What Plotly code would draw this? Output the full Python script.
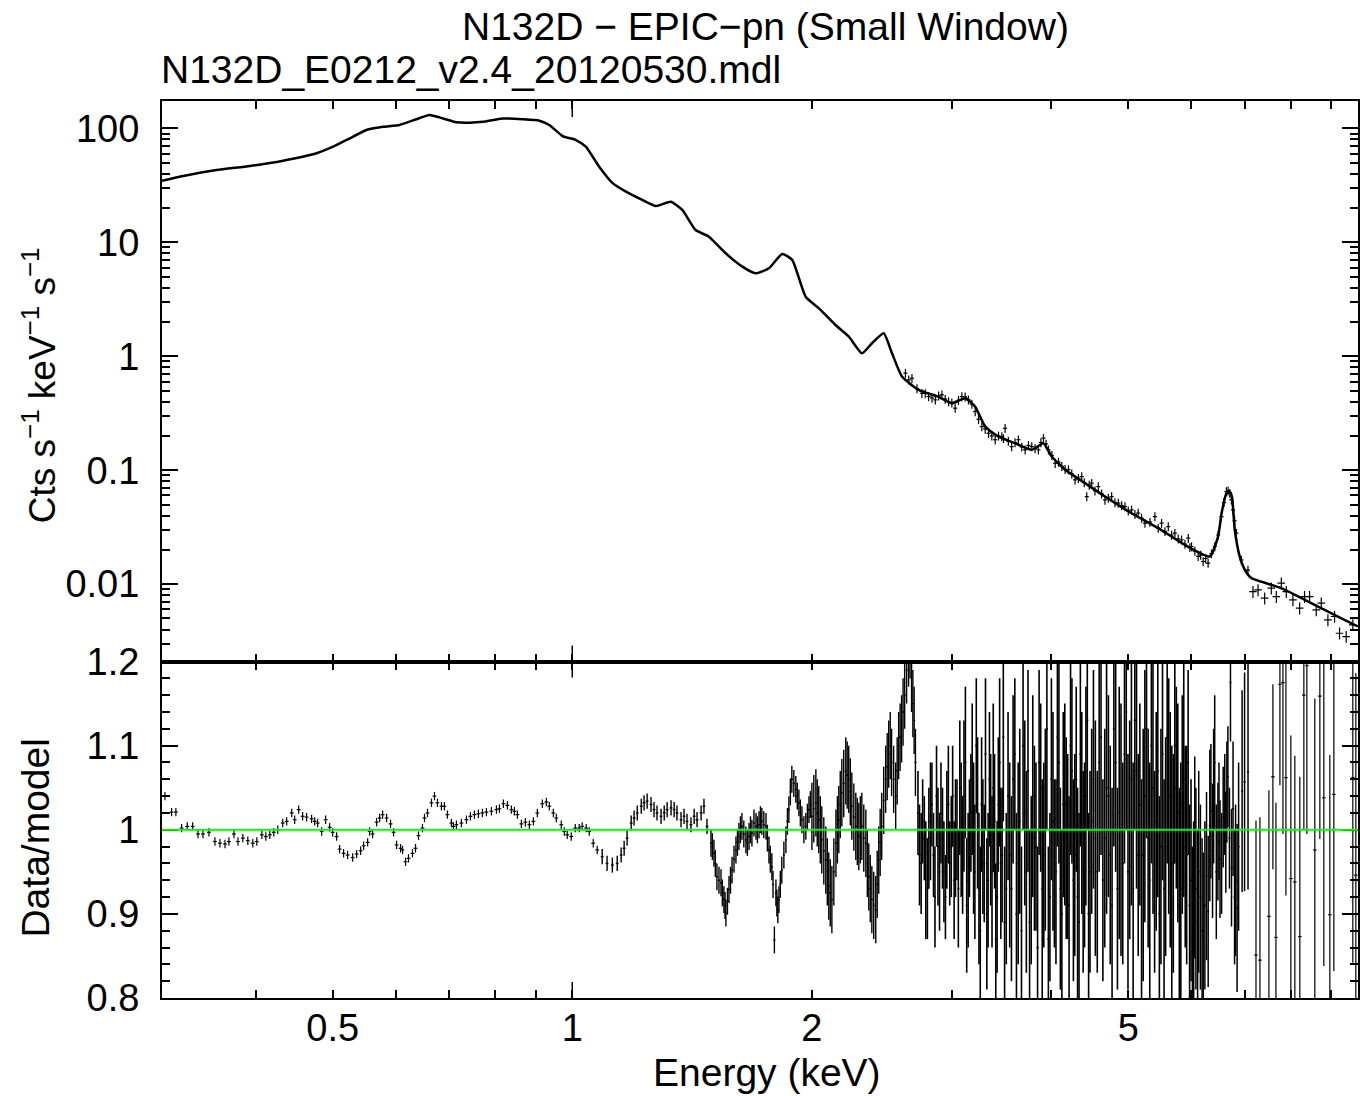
import math
import plotly.graph_objects as go

# ---------------- model curve (top panel) ----------------
model_E = [0.305,0.3244,0.3571,0.3933,0.4330,0.4770,0.5004,0.5252,0.5511,0.5781,
           0.6066,0.6366,0.6616,0.6876,0.7147,0.7426,0.7719,0.8175,0.8661,0.9091,
           0.9357,0.9723,1.0107,1.040,1.081,1.124,1.168,1.225,1.274,1.330,
           1.375,1.429,1.485,1.559,1.636,1.700,1.767,1.836,1.890,1.965,
           2.041,2.142,2.226,2.313,2.381,2.463,2.523,2.597,2.725,2.887,
           3.000,3.119,3.210,3.304,3.434,3.604,3.781,3.911,4.006,4.164,
           4.411,4.673,5.047,5.452,5.888,6.330,6.483,6.550,6.641,6.707,
           6.750,6.804,6.902,7.000,7.138,7.785,8.573,9.171,9.716]
model_V = [34.7,38.2,43.0,46.7,52.0,60.4,69.0,81.7,96.6,103,
           107,120,131,122,113,112,114,122,120,116.6,
           107,85.5,78.9,69,46,33.0,27.8,23.5,20.8,22.7,
           19.2,12.8,11.2,8.0,6.11,5.34,5.91,7.89,7.0,3.33,
           2.64,1.88,1.49,1.06,1.30,1.59,1.06,0.663,0.506,0.44,
           0.387,0.428,0.361,0.241,0.197,0.172,0.151,0.172,0.132,0.1007,
           0.0769,0.0587,0.0419,0.031,0.0221,0.0175,0.0262,0.042,0.0628,0.0649,
           0.058,0.030,0.0175,0.0135,0.0113,0.00923,0.00658,0.0052,0.00425]

# ---------------- data points (top panel) ----------------
data_E = [2.623,2.673,2.751,2.805,2.860,2.915,2.972,3.029,3.088,3.148,
          3.210,3.272,3.336,3.401,3.467,3.500,3.567,3.637,3.709,3.781,
          3.854,3.911,3.968,4.046,4.124,4.204,4.286,4.369,4.433,4.497,
          4.584,4.673,4.764,4.857,4.951,5.047,5.145,5.246,5.400,5.505,
          5.613,5.721,5.833,5.947,6.004,6.120,6.209,6.299,6.422,6.546,
          6.641,6.707,6.770,6.835,6.935,7.069,7.172,7.278,7.419,7.563,
          7.674,7.785,7.898,8.052,8.209,8.327,8.449,8.613,8.739,8.909,
          9.083,9.214,9.393,9.576]
data_V = [0.71,0.641,0.473,0.443,0.414,0.458,0.400,0.350,0.443,0.414,
          0.327,0.241,0.211,0.185,0.197,0.233,0.161,0.185,0.151,0.161,
          0.151,0.191,0.151,0.115,0.108,0.101,0.0823,0.0879,0.0586,0.0769,
          0.0718,0.0548,0.0586,0.0514,0.048,0.0449,0.042,0.0343,0.0392,0.0343,
          0.032,0.028,0.0245,0.0253,0.0214,0.0175,0.0158,0.0153,0.0214,0.0392,
          0.0649,0.0628,0.0449,0.028,0.0163,0.0133,0.0086,0.0089,0.00753,0.00923,
          0.00778,0.0102,0.0086,0.00727,0.00615,0.00778,0.00778,0.00595,0.00681,0.00486,
          0.0052,0.00371,0.00347,0.0044]
data2_E = [2.648,2.712,2.778,2.832,2.888,2.943,3.000,3.058,3.118,3.179,
           3.241,3.304,3.368,3.434,3.484,3.533,3.602,3.673,3.745,3.817,
           3.882,3.940,4.007,4.085,4.164,4.245,4.327,4.401,4.465,4.540,
           4.628,4.718,4.810,4.904,4.999,5.096,5.195,5.323,5.452,5.559,
           5.667,5.777,5.890,5.975,6.062,6.165,6.254,6.360,6.484,6.594,
           6.674,6.738,6.802]
data2_V = [0.62,0.52,0.47,0.43,0.45,0.42,0.39,0.41,0.44,0.38,
           0.28,0.23,0.20,0.20,0.19,0.18,0.175,0.16,0.165,0.155,
           0.175,0.17,0.135,0.118,0.102,0.093,0.085,0.078,0.074,0.066,
           0.062,0.057,0.052,0.049,0.044,0.041,0.038,0.035,0.031,0.029,
           0.027,0.025,0.0225,0.021,0.0195,0.018,0.0168,0.0185,0.027,0.052,
           0.066,0.055,0.036]

# ---------------- residuals (bottom panel) ----------------
res1_E = [0.3076,0.3136,0.3175,0.3228,0.3281,0.3333,0.3385,0.3434,0.3494,0.3555,
          0.3607,0.3660,0.3702,0.3756,0.3800,0.3854,0.3910,0.3967,0.4013,0.4072,
          0.4119,0.4167,0.4215,0.4264,0.4326,0.4376,0.4440,0.4478,0.4530,0.4582,
          0.4635,0.4703,0.4745,0.4786,0.4842,0.4898,0.4955,0.4998,0.5056,0.5100,
          0.5159,0.5219,0.5296,0.5357,0.5420,0.5467,0.5531,0.5563,0.5611,0.5676,
          0.5726,0.5776,0.5843,0.5910,0.5962,0.6014,0.6084,0.6119,0.6172,0.6225,
          0.6297,0.6353,0.6408,0.6482,0.6520,0.6577,0.6653,0.6711,0.6769,0.6848,
          0.6907,0.6967,0.7048,0.7089,0.7151,0.7255,0.7362,0.7447,0.7534,0.7621,
          0.7710,0.7800,0.7914,0.8029,0.8099,0.8193,0.8288,0.8384,0.8457,0.8531,
          0.8630,0.8731,0.8832,0.8935,0.9038,0.9170,0.9277,0.9357,0.9466,0.9548,
          0.9687,0.9772,0.9856,0.9970,1.0087,1.0204,1.0292,1.0413,1.0503,1.0625,1.0749]
res1_R = [1.040,1.021,1.021,1.002,1.004,1.004,0.995,0.995,0.997,0.986,
          0.984,0.983,0.986,0.995,0.986,0.990,0.987,0.984,0.986,0.994,
          0.992,0.994,0.997,1.000,1.008,1.010,1.020,1.012,1.024,1.016,
          1.015,1.013,1.010,1.008,0.998,1.012,1.003,0.997,0.992,0.977,
          0.972,0.970,0.967,0.971,0.975,0.981,0.985,0.998,0.995,1.009,
          1.014,1.018,1.014,1.007,0.997,0.982,0.978,0.976,0.962,0.966,
          0.972,0.978,0.993,1.002,1.014,1.020,1.032,1.040,1.032,1.028,
          1.028,1.018,1.008,1.004,1.006,1.008,1.012,1.016,1.018,1.019,
          1.020,1.021,1.022,1.024,1.025,1.031,1.029,1.024,1.022,1.018,
          1.007,1.009,1.006,1.010,1.020,1.031,1.033,1.028,1.020,1.014,
          1.006,0.998,0.994,0.992,1.002,1.002,1.004,1.002,0.998,0.984,0.976]

res2_E = [1.0905,1.106,1.123,1.139,1.152,1.162,1.172,1.186,1.196,1.207,
          1.221,1.231,1.242,1.256,1.267,1.278,1.293,1.305,1.316,1.331,
          1.343,1.354,1.370,1.382,1.394,1.410,1.423,1.435,1.452,1.464,1.477]
res2_R = [0.968,0.960,0.958,0.960,0.970,0.978,0.990,1.008,1.014,1.020,
          1.028,1.032,1.034,1.030,1.024,1.020,1.016,1.020,1.024,1.026,
          1.024,1.020,1.012,1.016,1.010,1.006,1.016,1.012,1.020,1.028,1.004]

res3_E = [1.494,1.507,1.520,1.538,1.551,1.560,1.574,1.588,1.606,1.620,
          1.634,1.653,1.668,1.682,1.702,1.717,1.731,1.752,1.767,1.782,
          1.795,1.803,1.808,1.819,1.834,1.856,1.872,1.888,1.910,1.927,
          1.944,1.966,1.984,
          1.500,1.513,1.529,1.544,1.556,1.567,1.581,1.597,1.613,1.627,
          1.643,1.660,1.675,1.692,1.709,1.724,1.741,1.759,1.774,1.788,
          1.813,1.826,1.845,1.864,1.880,1.899,1.918,1.935,1.955,1.975,1.992]
res3_R = [0.984,0.972,0.944,0.937,0.917,0.901,0.929,0.952,0.976,0.992,
          1.004,0.988,0.992,0.996,1.004,1.006,1.010,1.004,0.976,0.956,
          0.869,0.925,0.913,0.917,0.952,0.988,1.024,1.060,1.048,1.032,
          1.012,1.004,1.024,
          0.980,0.960,0.940,0.925,0.910,0.915,0.940,0.965,0.985,1.000,
          0.995,0.985,1.000,1.008,1.000,1.012,1.006,0.990,0.965,0.935,
          0.905,0.935,0.970,1.010,1.045,1.055,1.040,1.020,1.000,1.015,1.030]

res4_E = [2.001,2.024,2.041,2.059,2.083,2.101,2.120,2.145,2.163,2.182,
          2.207,2.226,2.246,2.272,2.292,2.312,2.339,2.359,2.380,2.407,
          2.428,2.449,2.477,2.499,2.520,2.550,2.572,2.594,2.617,2.647,
          2.670,2.690,
          2.012,2.032,2.050,2.071,2.092,2.110,2.132,2.154,2.172,2.194,
          2.216,2.236,2.259,2.282,2.302,2.325,2.349,2.369,2.393,2.417,
          2.438,2.463,2.488,2.510,2.535,2.561,2.583,2.605,2.632,2.658,
          2.680,2.700]
res4_R = [1.016,1.032,1.012,0.988,0.964,0.933,0.917,0.984,1.012,1.044,
          1.070,1.060,1.028,1.004,0.992,1.004,0.984,0.944,0.917,0.905,
          0.964,1.004,1.060,1.090,1.080,1.040,1.100,1.120,1.160,1.210,
          1.180,1.130,
          1.025,1.020,1.000,0.975,0.950,0.925,0.950,1.000,1.030,1.055,
          1.065,1.045,1.015,0.998,1.000,0.990,0.960,0.930,0.910,0.935,
          0.985,1.035,1.075,1.100,1.060,1.070,1.110,1.140,1.190,1.220,
          1.150,1.080]

res5_E = [2.72,2.745,2.77,2.795,2.82,2.845,2.87,2.895,2.92,2.945,2.97,2.995,3.02,3.045,
          3.07,3.095,3.12,3.145,3.17,3.195,3.22,3.245,3.27,3.295,3.32,3.345,3.37,3.395,
          3.42,3.445,3.47,3.495,
          3.53,3.565,3.6,3.635,3.67,3.705,3.74,3.775,3.81,3.845,3.88,3.915,3.95,3.985,
          4.02,4.055,4.09,4.125,4.16,4.195,4.23,4.265,4.3,4.335,4.37,4.405,4.44,4.475,
          4.52,4.57,4.62,4.67,4.72,4.77,4.82,4.87,4.92,4.97,5.02,5.07,5.12,5.17,5.22,
          5.27,5.32,5.37,5.42,5.47,5.52,5.57,5.62,5.67,5.72,5.77,5.82,5.87,5.92,5.97,6.02]
res5_R = [1.02,0.96,0.99,0.93,1.01,0.97,1.04,0.95,0.99,0.92,1.03,0.98,0.94,1.00,
          1.05,0.97,1.08,0.94,1.02,0.99,1.10,0.93,1.03,0.96,0.90,1.06,0.95,1.01,
          0.92,1.08,0.97,0.89,
          1.04,0.93,1.09,0.96,0.88,1.02,1.07,0.94,0.99,0.86,1.05,0.97,1.12,0.92,
          1.01,0.95,1.08,0.90,1.03,0.98,1.10,0.94,1.06,0.89,1.02,0.97,1.13,0.95,
          1.06,0.95,1.11,0.99,1.04,0.91,1.08,1.02,0.96,1.14,1.00,0.93,1.07,1.03,0.97,
          1.12,0.94,1.05,1.01,0.90,1.09,0.98,1.04,0.95,1.10,1.02,0.93,1.06,0.97,0.91,0.87]
res5_err = [0.05,0.06,0.05,0.06,0.07,0.05,0.06,0.07,0.06,0.05,0.07,0.06,0.07,0.06,
            0.08,0.07,0.09,0.08,0.07,0.09,0.08,0.09,0.08,0.07,0.09,0.08,0.09,0.08,
            0.09,0.10,0.08,0.09,
            0.10,0.11,0.09,0.12,0.10,0.11,0.12,0.10,0.11,0.12,0.10,0.11,0.12,0.10,
            0.13,0.11,0.12,0.10,0.12,0.11,0.13,0.12,0.11,0.13,0.12,0.11,0.13,0.12,
            0.13,0.12,0.14,0.13,0.12,0.14,0.13,0.15,0.12,0.14,0.13,0.15,0.14,0.12,0.15,
            0.13,0.14,0.15,0.13,0.14,0.15,0.13,0.14,0.15,0.14,0.13,0.15,0.14,0.13,0.12,0.11]

res5b_E = [2.732,2.757,2.782,2.807,2.832,2.857,2.882,2.907,2.932,2.957,2.982,3.007,3.032,3.057,
           3.082,3.107,3.132,3.157,3.182,3.207,3.232,3.257,3.282,3.307,3.332,3.357,3.382,3.407,
           3.432,3.457,3.482,3.512,
           3.547,3.582,3.617,3.652,3.687,3.722,3.757,3.792,3.827,3.862,3.897,3.932,3.967,4.002,
           4.037,4.072,4.107,4.142,4.177,4.212,4.247,4.282,4.317,4.352,4.387,4.422,4.457,4.497,
           4.545,4.595,4.645,4.695,4.745,4.795,4.845,4.895,4.945,4.995,5.045,5.095,5.145,5.195,5.245,
           5.295,5.345,5.395,5.445,5.495,5.545,5.595,5.645,5.695,5.745,5.795,5.845,5.895,5.945,5.995,6.040]
res5b_R = [0.97,1.01,0.94,0.99,1.03,0.92,0.98,1.02,0.95,1.00,0.96,1.04,0.99,0.93,
           1.00,1.04,0.91,0.99,1.06,0.95,1.02,0.88,0.98,1.09,0.94,1.00,1.05,0.87,
           1.03,0.96,1.11,0.93,
           0.97,1.06,0.90,1.01,1.10,0.95,0.89,1.04,0.98,1.08,0.93,1.00,0.87,1.06,
           0.96,1.11,0.93,1.03,0.99,0.91,1.07,0.97,0.92,1.09,0.95,1.04,0.90,1.01,
           0.99,1.08,0.94,1.05,0.97,1.12,0.93,1.00,1.09,0.95,1.06,1.13,0.97,0.92,1.04,
           0.99,1.10,0.95,1.07,0.98,0.93,1.11,1.00,0.96,1.05,0.91,1.03,0.98,1.08,0.94,0.90]
res5b_err = [0.06,0.05,0.07,0.06,0.05,0.06,0.07,0.06,0.06,0.07,0.05,0.06,0.07,0.07,
             0.08,0.09,0.08,0.07,0.09,0.08,0.09,0.10,0.08,0.09,0.08,0.09,0.10,0.09,
             0.08,0.09,0.10,0.09,
             0.11,0.10,0.12,0.11,0.10,0.12,0.11,0.12,0.10,0.11,0.13,0.12,0.11,0.12,
             0.10,0.13,0.12,0.11,0.12,0.13,0.11,0.12,0.13,0.11,0.12,0.13,0.12,0.11,
             0.14,0.13,0.12,0.15,0.13,0.14,0.12,0.15,0.13,0.14,0.15,0.13,0.12,0.14,0.15,
             0.13,0.14,0.12,0.15,0.14,0.13,0.15,0.14,0.13,0.12,0.14,0.13,0.12,0.11,0.12,0.11]

res6_E = [6.06,6.16,6.21,6.30,6.35,6.42,6.48,6.55,6.61,6.67,6.72,6.80,6.85,6.95,7.00,7.07,
          6.08,6.11,6.13,6.19,6.24,6.27,6.33,6.38,6.40,6.45,6.50,6.52,6.58,6.63,6.65,6.70,
          6.74,6.77,6.82,6.88]
res6_R = [0.967,0.920,0.873,0.903,1.022,1.080,0.986,0.960,1.030,1.063,1.175,0.920,0.907,1.046,1.057,1.069,
          0.930,0.890,0.950,0.880,0.910,0.945,1.005,0.975,1.040,0.950,1.010,0.965,1.015,0.985,1.045,0.990,
          0.955,1.025,0.940,0.980]
res6_err = [0.12,0.11,0.10,0.09,0.08,0.08,0.07,0.06,0.06,0.06,0.07,0.08,0.10,0.12,0.13,0.14,
            0.12,0.11,0.12,0.11,0.10,0.10,0.09,0.08,0.08,0.08,0.07,0.07,0.06,0.06,0.06,0.06,
            0.07,0.08,0.09,0.10]

res7_E = [7.235,7.318,7.511,7.598,7.665,7.754,7.822,7.890,8.003,8.096,
          8.214,8.310,8.383,8.578,8.704,8.805,8.959,9.064,9.576,9.659]
res7_R = [0.851,0.845,0.897,1.063,0.872,1.173,1.175,1.062,0.942,0.938,
          0.873,1.160,1.195,0.976,1.159,1.038,0.899,1.042,1.062,0.946]
res7_err = [0.16,0.17,0.15,0.11,0.16,0.12,0.18,0.14,0.17,0.15,
            0.19,0.16,0.20,0.18,0.17,0.20,0.19,0.21,0.22,0.24]

x_tick_vals = [0.5, 1, 2, 5]
x_tick_text = ["0.5", "1", "2", "5"]
x_minor_vals = [0.4, 0.6, 0.7, 0.8, 0.9, 3, 4, 6, 7, 8, 9]
y1_tick_vals = [0.01, 0.1, 1, 10, 100]
y1_tick_text = ["0.01", "0.1", "1", "10", "100"]
y2_tick_vals = [0.8, 0.9, 1.0, 1.1, 1.2]
y2_tick_text = ["0.8", "0.9", "1", "1.1", "1.2"]

FONT = "Liberation Sans, Arial, Helvetica, sans-serif"
FS = 39
TFS = 38

fig = go.Figure()

fig.add_trace(go.Scatter(x=model_E, y=model_V, mode="lines",
                         line=dict(color="black", width=2.5, shape="spline", smoothing=0.5),
                         xaxis="x", yaxis="y", showlegend=False, hoverinfo="skip"))

def cross_trace(xs, ys, ey, ex_pct, xa, ya, thick=1.0, ey_type="data"):
    if ey_type == "percent":
        err_y = dict(type="percent", value=ey, color="black", thickness=thick, width=0)
    elif isinstance(ey, list):
        err_y = dict(type="data", array=ey, color="black", thickness=thick, width=0)
    else:
        err_y = dict(type="constant", value=ey, color="black", thickness=thick, width=0)
    return go.Scatter(x=xs, y=ys, mode="markers",
                      marker=dict(size=2, color="rgba(0,0,0,0)", line=dict(width=0)),
                      error_y=err_y,
                      error_x=dict(type="percent", value=ex_pct, color="black", thickness=thick, width=0),
                      xaxis=xa, yaxis=ya, showlegend=False, hoverinfo="skip")

# top panel data
fig.add_trace(cross_trace(data_E[:56], data_V[:56], 9, 0.6, "x", "y", thick=1.2, ey_type="percent"))
fig.add_trace(cross_trace(data2_E, data2_V, 9, 0.6, "x", "y", thick=1.2, ey_type="percent"))
fig.add_trace(cross_trace(data_E[56:], data_V[56:], 12, 1.1, "x", "y", thick=1.2, ey_type="percent"))

# residuals
fig.add_trace(cross_trace(res1_E, res1_R, 0.005, 0.55, "x2", "y2", thick=1.2))
fig.add_trace(cross_trace(res2_E, res2_R, 0.009, 0.4, "x2", "y2", thick=1.4))
fig.add_trace(cross_trace(res3_E, res3_R, 0.016, 0.3, "x2", "y2", thick=1.4))
fig.add_trace(cross_trace(res4_E, res4_R, 0.04, 0.3, "x2", "y2", thick=1.4))
fig.add_trace(cross_trace(res5_E, res5_R, res5_err, 0.3, "x2", "y2", thick=1.6))
fig.add_trace(cross_trace(res5b_E, res5b_R, res5b_err, 0.3, "x2", "y2", thick=1.6))
fig.add_trace(cross_trace(res6_E, res6_R, res6_err, 0.3, "x2", "y2", thick=1.5))
fig.add_trace(cross_trace(res7_E, res7_R, res7_err, 0.5, "x2", "y2", thick=1.2))

xr = [math.log10(0.305), math.log10(9.72)]
split = 0.3751

common_x = dict(type="log", range=xr, showline=True, linecolor="black", linewidth=2,
                mirror="allticks", ticks="inside", ticklen=8, tickwidth=1.5, tickcolor="black",
                tickvals=x_tick_vals, ticktext=x_tick_text, showgrid=False, zeroline=False,
                minor=dict(tickvals=x_minor_vals, ticks="inside", ticklen=8, tickwidth=1.5,
                           tickcolor="black", showgrid=False),
                tickfont=dict(family=FONT, size=TFS, color="black"))

fig.update_layout(
    width=1360, height=1096,
    margin=dict(l=162, r=0, t=101, b=98),
    paper_bgcolor="white", plot_bgcolor="white",
    font=dict(family=FONT, size=FS, color="black"),
    xaxis=dict(common_x, domain=[0, 1], anchor="y", showticklabels=False, matches="x2"),
    xaxis2=dict(common_x, domain=[0, 1], anchor="y2", showticklabels=True),
    yaxis=dict(type="log", domain=[split, 1], range=[-2.679, 2.2395], anchor="x",
               showline=True, linecolor="black", linewidth=2, mirror="allticks",
               ticks="inside", ticklen=16, tickwidth=1.5, tickcolor="black",
               tickvals=y1_tick_vals, ticktext=y1_tick_text, showgrid=False, zeroline=False,
               ticklabelstandoff=13,
               minor=dict(tickvals=[m * 10.0 ** k for k in range(-3, 3) for m in range(2, 10)],
                          ticks="inside", ticklen=8, tickwidth=1.5, tickcolor="black", showgrid=False),
               tickfont=dict(family=FONT, size=TFS, color="black")),
    yaxis2=dict(domain=[0, split], range=[0.8, 1.2], anchor="x2",
                showline=True, linecolor="black", linewidth=2, mirror="allticks",
                ticks="inside", ticklen=16, tickwidth=1.5, tickcolor="black",
                tickvals=y2_tick_vals, ticktext=y2_tick_text, showgrid=False, zeroline=False,
                ticklabelstandoff=13,
                minor=dict(dtick=0.02, tick0=0.8, ticks="inside", ticklen=8, tickwidth=1.5,
                           tickcolor="black", showgrid=False),
                tickfont=dict(family=FONT, size=TFS, color="black")),
)
try:
    fig.update_layout(xaxis2=dict(ticklabelstandoff=-5))
except Exception:
    fig.update_layout(xaxis2=dict(ticklabelstandoff=0))

shapes = [
    dict(type="line", xref="x2 domain", yref="y2", x0=0, x1=1, y0=1, y1=1,
         line=dict(color="#00ff00", width=2)),
]
top_h = 897 * (1 - split)
bot_h = 897 * split
for xr_, yr_, h in (("x", "y domain", top_h), ("x2", "y2 domain", bot_h)):
    f = 16.0 / h
    shapes.append(dict(type="line", xref=xr_, yref=yr_, x0=1, x1=1, y0=0, y1=f,
                       line=dict(color="black", width=1.5)))
    shapes.append(dict(type="line", xref=xr_, yref=yr_, x0=1, x1=1, y0=1 - f, y1=1,
                       line=dict(color="black", width=1.5)))
fig.update_layout(shapes=shapes)

annots = [
    dict(text="N132D \u2212 EPIC\u2212pn (Small Window)", x=0.505, y=1.0825, xref="paper", yref="paper",
         xanchor="center", yanchor="middle", showarrow=False, font=dict(family=FONT, size=FS)),
    dict(text="N132D_E0212_v2.4_20120530.mdl", x=-0.0025, y=1.0346, xref="paper", yref="paper",
         xanchor="left", yanchor="middle", showarrow=False, font=dict(family=FONT, size=FS)),
    dict(text="Energy (keV)", x=0.506, y=-0.0825, xref="paper", yref="paper",
         xanchor="center", yanchor="middle", showarrow=False, font=dict(family=FONT, size=FS)),
    dict(text="Cts s<sup>\u22121</sup> keV<sup>\u22121</sup> s<sup>\u22121</sup>", x=-0.1018, y=0.6834,
         xref="paper", yref="paper", textangle=-90, xanchor="center", yanchor="middle",
         showarrow=False, font=dict(family=FONT, size=37)),
    dict(text="Data/model", x=-0.106, y=0.178, xref="paper", yref="paper", textangle=-90,
         xanchor="center", yanchor="middle", showarrow=False, font=dict(family=FONT, size=FS)),
]
fig.update_layout(annotations=annots)

fig.write_html("out.html")
